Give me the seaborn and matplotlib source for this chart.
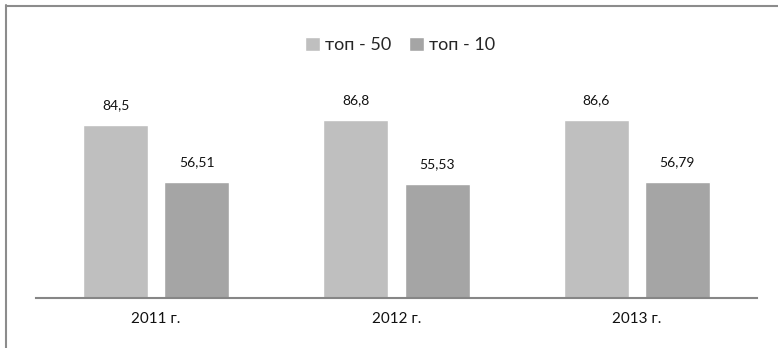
import matplotlib
matplotlib.use("Agg")
import matplotlib.pyplot as plt
from matplotlib.lines import Line2D
import seaborn as sns
import pandas as pd

years = ["2011 г.", "2012 г.", "2013 г."]
series_names = ["топ - 50", "топ - 10"]
top50 = [84.5, 86.8, 86.6]
top10 = [56.51, 55.53, 56.79]
label_top50 = ["84,5", "86,8", "86,6"]
label_top10 = ["56,51", "55,53", "56,79"]

sns.set_style("white")
plt.rcParams["font.family"] = ["Lato", "Open Sans", "DejaVu Sans"]

df = pd.DataFrame({
    "year": years * 2,
    "series": [series_names[0]] * 3 + [series_names[1]] * 3,
    "value": top50 + top10,
})

W, H = 778, 348
fig = plt.figure(figsize=(W / 100, H / 100), dpi=100)
ax = fig.add_axes([36 / W, 50 / H, (757 - 36) / W, 205 / H])

palette = {series_names[0]: "#BFBFBF", series_names[1]: "#A5A5A5"}
sns.barplot(data=df, x="year", y="value", hue="series", palette=palette,
            width=0.675, gap=0.2, saturation=1, ax=ax, legend=True)

ax.set_ylim(0, 100)
ax.set_xlim(-0.5, 2.5)
ax.set_xlabel("")
ax.set_ylabel("")
ax.set_yticks([])
for side in ["top", "right", "left"]:
    ax.spines[side].set_visible(False)
ax.spines["bottom"].set_color("#868686")
ax.spines["bottom"].set_linewidth(1.5)
ax.tick_params(axis="x", length=0, pad=10, labelsize=11, labelcolor="#111111")

labels = [label_top50, label_top10]
for cont, labs in zip(ax.containers, labels):
    ax.bar_label(cont, labels=labs, padding=10, fontsize=10, color="#111111")

handles, texts = ax.get_legend_handles_labels()
ax.legend(handles, texts, loc="center", bbox_to_anchor=(400 / W, 1 - 45 / H),
          bbox_transform=fig.transFigure, ncol=2, frameon=False,
          fontsize=13, handlelength=0.85, handleheight=0.85,
          handletextpad=0.25, columnspacing=1.0, borderaxespad=0)

# outer frame (top and left edges visible)
frame_color = "#8C8C8C"
fig.add_artist(Line2D([6 / W, 1.0], [1 - 5.5 / H, 1 - 5.5 / H],
                      transform=fig.transFigure, color=frame_color, lw=1.5))
fig.add_artist(Line2D([6.5 / W, 6.5 / W], [0, 1 - 5 / H],
                      transform=fig.transFigure, color=frame_color, lw=1.5))

fig.savefig("out.png", dpi=100, facecolor="white")
